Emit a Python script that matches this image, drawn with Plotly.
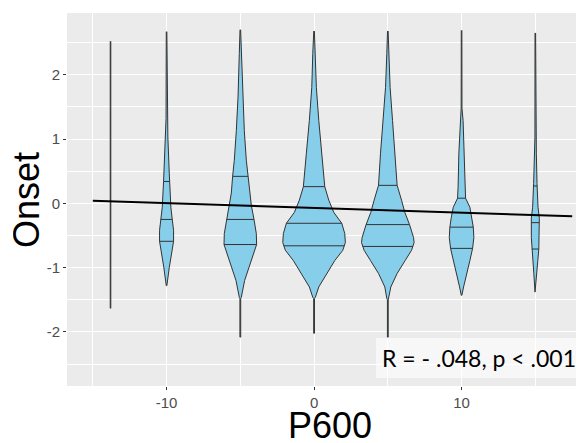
import numpy as np
import plotly.graph_objects as go

# ---- data ----
groups = [-13.8, -10, -5, 0, 5, 10, 15]

# violin outlines: y values (top -> bottom) and half-widths (x units)
prof_y = {
    -13.8: [2.52, 1.03, 1.02, -1.37, -1.38, -1.63],
    -10: [2.67, 1.32, 1.03, 0.47, 0.34, -0.06, -0.25, -0.42, -0.59, -0.78, -1.0, -1.28],
    -5: [2.70, 2.33, 1.65, 1.13, 0.67, 0.42, 0.16, -0.03, -0.25, -0.47, -0.64, -0.78, -1.0, -1.2, -1.46, -1.48, -2.08],
    0: [2.68, 2.33, 1.80, 1.29, 0.78, 0.51, 0.26, 0.05, -0.14, -0.31, -0.47, -0.61, -0.73, -0.89, -1.09, -1.30, -1.46, -1.48, -2.02],
    5: [2.68, 2.33, 1.80, 1.29, 0.78, 0.28, 0.05, -0.14, -0.33, -0.53, -0.61, -0.73, -0.89, -1.09, -1.30, -1.48, -1.50, -2.08],
    10: [2.69, 1.48, 1.29, 0.78, 0.25, 0.08, -0.06, -0.22, -0.37, -0.53, -0.70, -0.89, -1.09, -1.30, -1.43],
    15: [2.65, 1.03, 0.78, 0.31, -0.06, -0.23, -0.53, -0.71, -0.89, -1.09, -1.38],
}
prof_w = {
    -13.8: [0.02, 0.02, 0.045, 0.045, 0.02, 0.02],
    -10: [0.02, 0.034, 0.088, 0.183, 0.203, 0.292, 0.386, 0.475, 0.475, 0.319, 0.183, 0.02],
    -5: [0.02, 0.068, 0.156, 0.271, 0.407, 0.522, 0.61, 0.746, 0.929, 1.085, 1.105, 0.902, 0.59, 0.292, 0.068, 0.027, 0.027],
    0: [0.02, 0.088, 0.156, 0.319, 0.522, 0.61, 0.725, 0.997, 1.336, 1.878, 2.081, 2.122, 1.946, 1.403, 0.861, 0.319, 0.088, 0.027, 0.027],
    5: [0.02, 0.068, 0.156, 0.319, 0.495, 0.631, 0.929, 1.153, 1.471, 1.742, 1.783, 1.607, 1.173, 0.631, 0.203, 0.068, 0.027, 0.027],
    10: [0.02, 0.027, 0.102, 0.183, 0.237, 0.271, 0.563, 0.698, 0.793, 0.834, 0.746, 0.563, 0.339, 0.136, 0.02],
    15: [0.02, 0.027, 0.068, 0.115, 0.183, 0.271, 0.271, 0.237, 0.169, 0.102, 0.02],
}
# 25/50/75 % quantile lines
quantiles = {
    -10: [0.34, -0.25, -0.59],
    -5: [0.42, -0.25, -0.64],
    0: [0.26, -0.31, -0.66],
    5: [0.28, -0.33, -0.67],
    10: [0.08, -0.37, -0.70],
    15: [0.27, -0.30, -0.71],
}
# linear fit line
fit_x = [-15, 17.5]
fit_y = [0.04, -0.20]

x_ticks = [-10, 0, 10]
x_ticklabels = ["-10", "0", "10"]
x_minor = [-15, -5, 5, 15]
y_ticks = [-2, -1, 0, 1, 2]
y_ticklabels = ["-2", "-1", "0", "1", "2"]
y_minor = [-2.5, -1.5, -0.5, 0.5, 1.5, 2.5]
stat_text = "R = - .048, p < .001"

FILL = "#87CEEB"
EDGE = "#333333"

fig = go.Figure()
for g in groups:
    ys = np.array(prof_y[g])
    ws = np.array(prof_w[g])
    xs = np.concatenate([g + ws, (g - ws)[::-1]])
    yy = np.concatenate([ys, ys[::-1]])
    fig.add_trace(go.Scatter(x=xs, y=yy, mode="lines", fill="toself",
                             fillcolor=FILL, line=dict(color=EDGE, width=1),
                             hoverinfo="skip", showlegend=False))
    if g in quantiles:
        qx, qy = [], []
        for q in quantiles[g]:
            hw = np.interp(q, ys[::-1], ws[::-1])
            qx += [g - hw, g + hw, None]
            qy += [q, q, None]
        fig.add_trace(go.Scatter(x=qx, y=qy, mode="lines",
                                 line=dict(color=EDGE, width=1),
                                 hoverinfo="skip", showlegend=False))

fig.add_trace(go.Scatter(x=fit_x, y=fit_y, mode="lines",
                         line=dict(color="black", width=2),
                         hoverinfo="skip", showlegend=False))

axis_common = dict(
    showgrid=True, gridcolor="white", gridwidth=1.3, zeroline=False,
    showline=False, ticks="outside", ticklen=3, tickwidth=1, tickcolor=EDGE,
    tickfont=dict(family="Liberation Sans, Arial", size=15, color="#4D4D4D"),
    automargin=False,
)
fig.update_xaxes(range=[-16.75, 18.3], tickmode="array", tickvals=x_ticks,
                 ticktext=x_ticklabels,
                 minor=dict(tickmode="array", tickvals=x_minor, showgrid=True,
                            gridcolor="white", gridwidth=0.6, ticks=""),
                 **axis_common)
fig.update_yaxes(range=[-2.84, 2.96], tickmode="array", tickvals=y_ticks,
                 ticktext=y_ticklabels,
                 minor=dict(tickmode="array", tickvals=y_minor, showgrid=True,
                            gridcolor="white", gridwidth=0.6, ticks=""),
                 **axis_common)

# page body has an 8px margin, so the figure is 8px smaller on each side
fig.update_layout(
    width=576, height=435,
    margin=dict(l=59, r=0, t=5, b=57),
    paper_bgcolor="white", plot_bgcolor="#EBEBEB",
    showlegend=False,
    annotations=[
        dict(text=stat_text, xref="paper", yref="paper", x=0.797, y=0.075,
             xanchor="center", yanchor="middle", showarrow=False,
             font=dict(family="Lato, Carlito, Calibri", size=23, color="black"),
             bgcolor="rgba(255,255,255,0.6)", borderpad=6, borderwidth=0),
        dict(text="Onset", xref="paper", yref="paper", x=-0.0774, y=0.4987,
             xanchor="center", yanchor="middle", textangle=-90, showarrow=False,
             height=28, valign="middle",
             font=dict(family="Liberation Sans, Arial", size=36, color="black")),
        dict(text="P600", xref="paper", yref="paper", x=0.5087, y=-0.1046,
             xanchor="center", yanchor="middle", showarrow=False,
             height=28, valign="middle",
             font=dict(family="Liberation Sans, Arial", size=36, color="black")),
    ],
)

fig.write_html("out.html")
